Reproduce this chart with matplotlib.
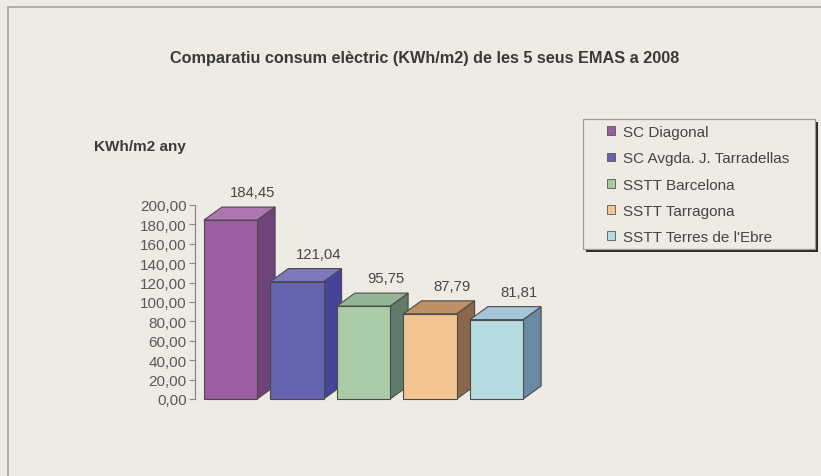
import matplotlib
matplotlib.use("Agg")
import matplotlib.pyplot as plt
from matplotlib.patches import Polygon, Rectangle, Patch
from matplotlib.lines import Line2D

plt.rcParams['font.family'] = ['Liberation Sans', 'DejaVu Sans']

# ---- data ----
categories = ["SC Diagonal", "SC Avgda. J. Tarradellas", "SSTT Barcelona",
              "SSTT Tarragona", "SSTT Terres de l'Ebre"]
values = [184.45, 121.04, 95.75, 87.79, 81.81]
yticks = [0, 20, 40, 60, 80, 100, 120, 140, 160, 180, 200]
title = "Comparatiu consum elèctric (KWh/m2) de les 5 seus EMAS a 2008"
ylabel = "KWh/m2 any"

front_colors = ["#9c5ea3", "#6663b0", "#a9cba7", "#f2c593", "#b6dbe1"]
top_colors = ["#ad76b3", "#7b78bd", "#95b597", "#bf9066", "#a5c5db"]
side_colors = ["#70437a", "#46449a", "#5f7b6a", "#8b684d", "#6a8aa3"]

W, H = 821, 477
BG = "#eeebe5"
fig = plt.figure(figsize=(W / 100, H / 100), dpi=100, facecolor=BG)

def fx(px):
    return px / W

def fy(py):
    return 1 - py / H

# outer chart frame (top and left edges visible)
fig.add_artist(Line2D([fx(8), 1], [fy(8), fy(8)], color="#a7a59f", lw=1.2))
fig.add_artist(Line2D([fx(8), fx(8)], [fy(8), 0], color="#a7a59f", lw=1.2))

# axes: spine at x=195px, y=0 at 400px, y=200 at 206px
ax_left, ax_right, ax_bottom, ax_top = 195, 560, 400, 206
ax = fig.add_axes([fx(ax_left), fy(ax_bottom), (ax_right - ax_left) / W,
                   (ax_bottom - ax_top) / H])
ax.patch.set_visible(False)
px_per_unit_x = 66.5
first_center = 230.5
x0 = -(first_center - ax_left) / px_per_unit_x
x1 = (ax_right - first_center) / px_per_unit_x
ax.set_xlim(x0, x1)
ax.set_ylim(0, 200)

px_per_val = (ax_bottom - ax_top) / 200.0
dx = 18 / px_per_unit_x
dy = 13 / px_per_val
bw = 0.8
edge = "#4a4a4a"

for i, v in enumerate(values):
    z = 3 + i
    ax.bar(i, v, width=bw, color=front_colors[i], edgecolor=edge, lw=0.8,
           zorder=z + 0.5, clip_on=False)
    side = Polygon([(i + bw / 2, 0), (i + bw / 2 + dx, dy),
                    (i + bw / 2 + dx, v + dy), (i + bw / 2, v)],
                   closed=True, facecolor=side_colors[i], edgecolor=edge,
                   lw=0.8, zorder=z, clip_on=False)
    top = Polygon([(i - bw / 2, v), (i - bw / 2 + dx, v + dy),
                   (i + bw / 2 + dx, v + dy), (i + bw / 2, v)],
                  closed=True, facecolor=top_colors[i], edgecolor=edge,
                  lw=0.8, zorder=z, clip_on=False)
    ax.add_patch(side)
    ax.add_patch(top)
    ax.text(i + 0.33, v + 28 / px_per_val, f"{v:.2f}".replace(".", ","),
            ha="center", va="center", fontsize=10.7, color="#474747",
            clip_on=False)

for s in ["top", "right", "bottom"]:
    ax.spines[s].set_visible(False)
ax.spines["left"].set_color("#8a8a8a")
ax.spines["left"].set_linewidth(0.9)
ax.set_xticks([])
ax.set_yticks(yticks)
ax.set_yticklabels([f"{t:.2f}".replace(".", ",") for t in yticks])
ax.tick_params(axis="y", length=4, width=0.8, color="#8a8a8a", pad=2,
               labelsize=11, labelcolor="#595959")

fig.text(fx(425), fy(58), title, ha="center", va="center", fontsize=11.7,
         fontweight="bold", color="#3a3a3a")
fig.text(fx(94), fy(147), ylabel, ha="left", va="center", fontsize=11,
         fontweight="bold", color="#3a3a3a")

# legend box with shadow
lx0, ly0, lx1, ly1 = 583, 120, 815, 250
fig.add_artist(Rectangle((fx(lx0 + 3), fy(ly1 + 3)), (lx1 - lx0) / W,
                         (ly1 - ly0) / H, transform=fig.transFigure,
                         facecolor="#2a2a2a", edgecolor="none", zorder=1))
fig.add_artist(Rectangle((fx(lx0), fy(ly1)), (lx1 - lx0) / W,
                         (ly1 - ly0) / H, transform=fig.transFigure,
                         facecolor=BG, edgecolor="#9a9a9a", lw=0.9, zorder=2))
handles = [Patch(facecolor=c, edgecolor="#555555", lw=0.6) for c in front_colors]
leg = fig.legend(handles, categories, loc="upper left",
                 bbox_to_anchor=(fx(595), fy(114)), frameon=False,
                 fontsize=11, labelspacing=0.8, handlelength=0.5,
                 handleheight=0.5, handletextpad=0.5, borderpad=0.3,
                 labelcolor="#444444")
leg.set_zorder(3)

fig.savefig("out.png", dpi=100, facecolor=BG)
